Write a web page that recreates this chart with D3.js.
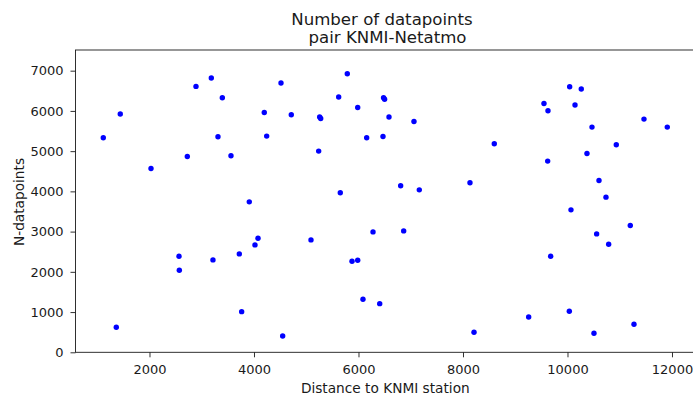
<!DOCTYPE html>
<html>
<head>
<meta charset="utf-8">
<script src="https://cdn.jsdelivr.net/npm/d3@7"></script>
<style>
  body { margin: 0; background: #fff; }
  text { font-family: "DejaVu Sans", sans-serif; fill: #1a1a1a; }
</style>
</head>
<body>
<div id="chart"></div>
<script>
// distance (m) to KNMI station and number of paired datapoints
var distances = [1116, 1441, 1365, 2029, 2724, 2890, 3183, 3394, 3311, 3560,
  4197, 4243, 3910, 4077, 4019, 3719, 2565, 2571, 3215, 3764,
  4517, 5786, 5621, 6480, 6500, 5985, 4714, 5257, 5277, 6584,
  7062, 6157, 6469, 5238, 6807, 7164, 8134, 5652, 6278, 6865,
  5091, 5876, 5985, 6086, 6406, 4549, 8211,
  10042, 10264, 9550, 9627, 10144, 11464, 11910, 10469, 8599, 10934,
  10373, 9621, 10603, 10737, 10067, 11202, 10558, 10788, 9678, 9257,
  10035, 11273, 10507];
var counts = [5332, 5922, 622, 4568, 4867, 6609, 6818, 6327, 5357, 4884,
  5962, 5374, 3740, 2836, 2670, 2446, 2389, 2040, 2297, 1010,
  6693, 6925, 6345, 6330, 6290, 6086, 5904, 5847, 5812, 5847,
  5738, 5332, 5365, 5001, 4138, 4038, 4213, 3964, 2993, 3018,
  2794, 2264, 2289, 1319, 1209, 406, 498,
  6601, 6544, 6186, 6004, 6146, 5797, 5598, 5598, 5183, 5158,
  4942, 4752, 4270, 3857, 3541, 3150, 2943, 2687, 2389, 878,
  1020, 697, 473];

var xTicks = [2000, 4000, 6000, 8000, 10000, 12000];
var yTicks = [0, 1000, 2000, 3000, 4000, 5000, 6000, 7000];

var svgWidth = 693;
var svgHeight = 397;

// plot box in pixels (right spine falls just outside the picture)
var margin = { top: 50, left: 75.5, bottom: 352.3, right: 695.5 };

var svg = d3.select("#chart")
  .append("svg")
  .attr("width", svgWidth)
  .attr("height", svgHeight);

var x = d3.scaleLinear()
  .domain([584, 12450])
  .range([margin.left, margin.right]);

var y = d3.scaleLinear()
  .domain([0, 7514])
  .range([margin.bottom, margin.top]);

var bottomAxis = d3.axisBottom(x).tickValues(xTicks).tickSize(5).tickPadding(7)
  .tickFormat(d3.format("d"));
var leftAxis = d3.axisLeft(y).tickValues(yTicks).tickSize(5).tickPadding(7)
  .tickFormat(d3.format("d"));

var gx = svg.append("g")
  .attr("transform", `translate(0, ${margin.bottom})`)
  .call(bottomAxis);

var gy = svg.append("g")
  .attr("transform", `translate(${margin.left}, 0)`)
  .call(leftAxis);

[gx, gy].forEach(function(g) {
  g.select(".domain").remove();
  g.selectAll(".tick line").attr("stroke", "#1a1a1a").attr("stroke-width", 0.9);
  g.selectAll(".tick text")
    .style("font-family", "DejaVu Sans, sans-serif")
    .style("font-size", "13px")
    .attr("fill", "#1a1a1a");
});

// frame
svg.append("rect")
  .attr("x", margin.left)
  .attr("y", margin.top)
  .attr("width", margin.right - margin.left)
  .attr("height", margin.bottom - margin.top)
  .attr("fill", "none")
  .attr("stroke", "#1a1a1a")
  .attr("stroke-width", 0.9);

// points
svg.selectAll("circle")
  .data(distances.map(function(d, i) { return { dist: d, n: counts[i] }; }))
  .enter()
  .append("circle")
  .attr("cx", d => x(d.dist))
  .attr("cy", d => y(d.n))
  .attr("r", 2.7)
  .attr("fill", "#0000ff");

// title
svg.append("text")
  .attr("x", 382)
  .attr("y", 25)
  .attr("text-anchor", "middle")
  .style("font-size", "16.6px")
  .text("Number of datapoints");

svg.append("text")
  .attr("x", 387.5)
  .attr("y", 42.7)
  .attr("text-anchor", "middle")
  .style("font-size", "16.6px")
  .text("pair KNMI-Netatmo");

// axis labels
svg.append("text")
  .attr("x", 385.3)
  .attr("y", 392.7)
  .attr("text-anchor", "middle")
  .style("font-size", "13.7px")
  .text("Distance to KNMI station");

svg.append("text")
  .attr("transform", "rotate(-90)")
  .attr("x", -202)
  .attr("y", 24)
  .attr("text-anchor", "middle")
  .style("font-size", "13.7px")
  .text("N-datapoints");
</script>
</body>
</html>
